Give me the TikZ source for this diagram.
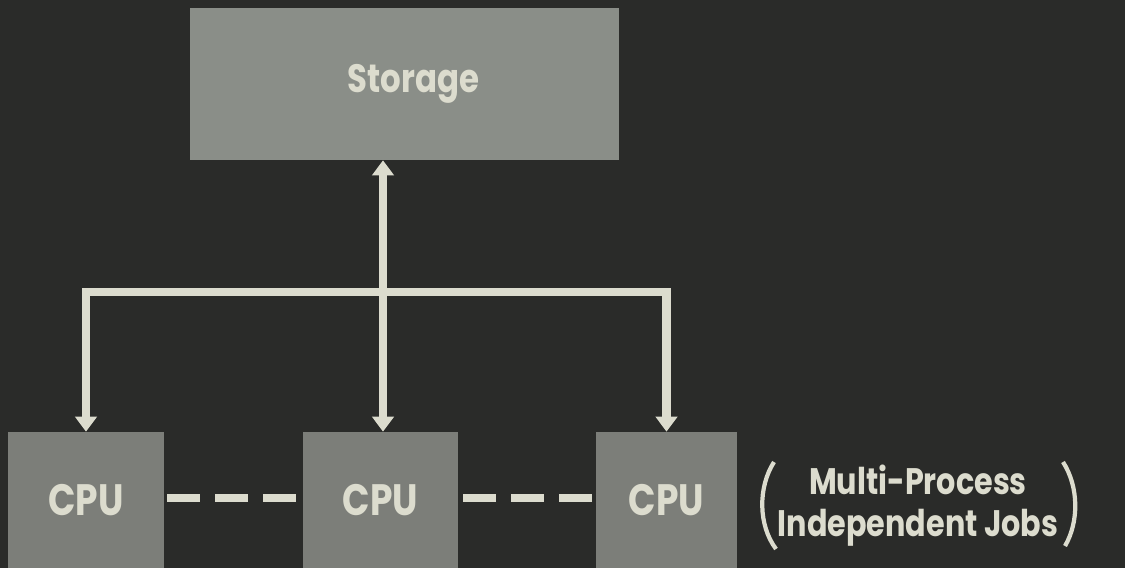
\documentclass[tikz,border=0pt]{standalone}
\usepackage{fontspec}
\newfontfamily\diagfont[FakeStretch=0.82]{Poppins}
\usetikzlibrary{arrows.meta,calc}

\definecolor{bgdark}{HTML}{2A2B29}
\definecolor{boxgray}{HTML}{8A8E88}
\definecolor{cpugray}{HTML}{7C7E79}
\definecolor{chalk}{HTML}{DCDCCE}

\tikzset{
  unitbox/.style={fill=#1, draw=none, inner sep=0pt, text=chalk,
    font=\diagfont\bfseries},
  bus/.style={chalk, line width=5pt, line join=miter},
  fat/.tip={Triangle[width=12pt,length=8.5pt]},
  link/.style={chalk, line width=4pt, dash pattern=on 18.7pt off 8.5pt}
}

\begin{document}
\begin{tikzpicture}[x=0.02cm, y=-0.02cm]
  % background
  \fill[bgdark] (0,0) rectangle (1125,568);
  \useasboundingbox (0,0) rectangle (1125,568);

  % Storage
  \node[unitbox=boxgray, minimum width=8.58cm, minimum height=3.04cm,
        font=\diagfont\bfseries\fontsize{22.5}{26}\selectfont] (storage) at (404.5,84)
        {\hspace*{10pt}\raisebox{-3.5pt}{Storage}};

  % CPUs
  \node[unitbox=cpugray, minimum width=3.12cm, minimum height=2.72cm,
        font=\diagfont\bfseries\fontsize{25}{28}\selectfont] (cpuA) at (86,500) {CPU};
  \node[unitbox=cpugray, minimum width=3.10cm, minimum height=2.72cm,
        font=\diagfont\bfseries\fontsize{25}{28}\selectfont] (cpuB) at (380.5,500) {CPU};
  \node[unitbox=cpugray, minimum width=2.82cm, minimum height=2.72cm,
        font=\diagfont\bfseries\fontsize{25}{28}\selectfont] (cpuC) at (666.5,500) {CPU};

  % bus junction
  \coordinate (bus) at (383,292);

  % bus and arrows
  \draw[bus, -fat] (bus) -- (bus |- storage.south);
  \draw[bus, fat-fat] (cpuA.north) -- (cpuA |- bus) -- (cpuC |- bus) -- (cpuC.north);
  \draw[bus, -fat] (bus) -- (bus |- cpuB.north);

  % links between CPUs
  \draw[link] ($(cpuA.east)+(3,-2)$) -- ($(cpuB.west)+(-5,-2)$);
  \draw[link] ($(cpuB.east)+(5,-2)$) -- ($(cpuC.west)+(-3,-2)$);

  % note
  \node[text=chalk, align=center, inner sep=0pt,
        font=\diagfont\bfseries\fontsize{21}{24}\selectfont] (jobs) at (918,506)
        {Multi-Process\\Independent Jobs};
  \draw[chalk, line width=2.4pt] (774,462) .. controls (758,487) and (758,525) .. (776,549);
  \draw[chalk, line width=2.4pt] (1063,462) .. controls (1079,487) and (1079,522) .. (1065,546);
\end{tikzpicture}
\end{document}
